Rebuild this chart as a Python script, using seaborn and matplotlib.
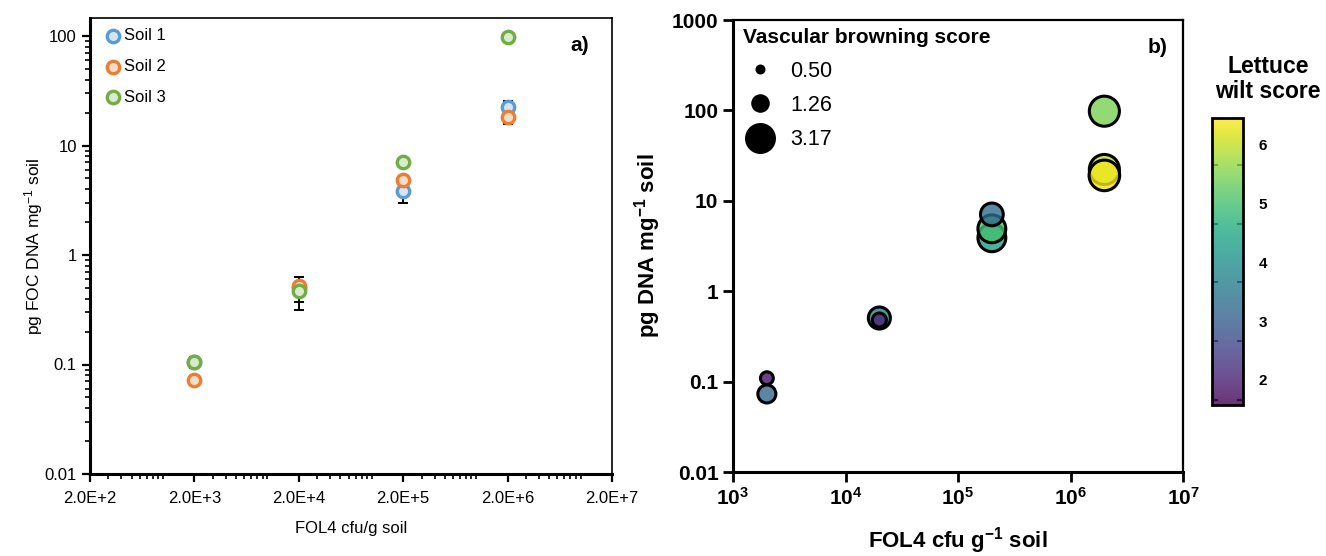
import numpy as np
import pandas as pd
import matplotlib
matplotlib.use("Agg")
import matplotlib.pyplot as plt
import seaborn as sns
from matplotlib.ticker import FixedLocator, LogLocator, NullFormatter, FuncFormatter, NullLocator
from matplotlib.lines import Line2D
import matplotlib.cm as cm
from matplotlib.colors import Normalize

# ---------------- data: panel a ----------------
inoculum = [2e3, 2e4, 2e5, 2e6]
soil_names = ["Soil 1", "Soil 2", "Soil 3"]
soil1_mean = [0.105, 0.50, 3.85, 22.5]
soil1_err = [0.013, 0.13, 0.85, 3.0]
soil2_mean = [0.072, 0.52, 4.85, 18.3]
soil2_err = [0.0, 0.03, 0.0, 2.6]
soil3_mean = [0.105, 0.47, 7.05, 98.0]
soil3_err = [0.0, 0.155, 0.0, 0.0]
x_ticks_a = [2e2, 2e3, 2e4, 2e5, 2e6, 2e7]
x_ticklabels_a = ["2.0E+2", "2.0E+3", "2.0E+4", "2.0E+5", "2.0E+6", "2.0E+7"]
y_ticks_a = [0.01, 0.1, 1, 10, 100]
y_ticklabels_a = ["0.01", "0.1", "1", "10", "100"]

# ---------------- data: panel b ----------------
cfu_b = [2e3, 2e3, 2e4, 2e4, 2e5, 2e5, 2e5, 2e6, 2e6, 2e6]
dna_b = [0.109, 0.073, 0.505, 0.48, 3.9, 4.9, 7.07, 98.0, 22.2, 19.1]
wilt_b = [1.8, 3.2, 3.6, 2.06, 4.26, 5.0, 3.3, 5.48, 5.97, 6.35]
browning_b = [0.7, 1.2, 1.7, 0.8, 2.6, 2.6, 1.8, 3.0, 3.0, 3.1]
browning_legend = [0.50, 1.26, 3.17]
wilt_range = (1.57, 6.46)
cbar_ticks = [2, 3, 4, 5, 6]
x_ticks_b = [1e3, 1e4, 1e5, 1e6, 1e7]
y_ticks_b = [0.01, 0.1, 1, 10, 100, 1000]
y_ticklabels_b = ["0.01", "0.1", "1", "10", "100", "1000"]

# ---------------- style ----------------
sns.set_style("ticks")
plt.rcParams["font.family"] = ["Liberation Sans", "DejaVu Sans"]
plt.rcParams["mathtext.fontset"] = "custom"
plt.rcParams["mathtext.rm"] = "Liberation Sans"
plt.rcParams["mathtext.bf"] = "Liberation Sans:bold"
plt.rcParams["mathtext.it"] = "Liberation Sans:italic"
plt.rcParams["mathtext.default"] = "rm"
for k in ["axes.edgecolor", "text.color", "axes.labelcolor", "xtick.color", "ytick.color"]:
    plt.rcParams[k] = "black"

edge_cols = ["#5b9bd5", "#ed7d31", "#70ad47"]
face_cols = ["#d6e5f5", "#fbdcc8", "#d9ebcc"]

fig = plt.figure(figsize=(13.26, 5.56), dpi=100)

# ================= panel a =================
axa = fig.add_axes([90/1326, 1-474/556, 522/1326, 456/556])
axa.set_xscale("log")
axa.set_yscale("log")
means = [soil1_mean, soil2_mean, soil3_mean]
errs = [soil1_err, soil2_err, soil3_err]
for i, name in enumerate(soil_names):
    axa.errorbar(inoculum, means[i], yerr=errs[i], fmt="none", ecolor="black",
                 elinewidth=1.4, capsize=3.5, capthick=1.4, zorder=2)
for i, name in enumerate(soil_names):
    d = pd.DataFrame({"cfu": inoculum, "dna": means[i]})
    sns.scatterplot(data=d, x="cfu", y="dna", ax=axa, color=face_cols[i],
                    edgecolor=edge_cols[i], linewidth=2.4, s=80, marker="o",
                    label=name, zorder=3)
axa.set_xlim(2e2, 2e7)
axa.set_ylim(0.01, 10**(2 + 18/109.5))
axa.xaxis.set_major_locator(FixedLocator(x_ticks_a))
axa.set_xticklabels(x_ticklabels_a)
axa.xaxis.set_minor_locator(LogLocator(base=10, subs=np.arange(1, 10)))
axa.xaxis.set_minor_formatter(NullFormatter())
axa.yaxis.set_major_locator(FixedLocator(y_ticks_a))
axa.set_yticklabels(y_ticklabels_a)
axa.yaxis.set_minor_locator(LogLocator(base=10, subs=np.arange(2, 10)))
axa.yaxis.set_minor_formatter(NullFormatter())
axa.tick_params(axis="both", which="major", direction="out", length=6, width=1.6,
                labelsize=12, colors="black")
axa.tick_params(axis="both", which="minor", direction="out", length=3.5, width=1.2)
axa.tick_params(axis="x", pad=6)
for s in ["left", "bottom"]:
    axa.spines[s].set_linewidth(2.2)
for s in ["top", "right"]:
    axa.spines[s].set_linewidth(1.2)
axa.set_xlabel("FOL4 cfu/g soil", fontsize=12, labelpad=11)
axa.set_ylabel("pg FOC DNA mg$^{-1}$ soil", fontsize=12.5, labelpad=0)
axa.legend(loc="upper left", bbox_to_anchor=(0.0, 1.007), frameon=False, fontsize=12,
           handletextpad=0.05, handlelength=1.2, labelspacing=0.95, borderaxespad=0.4)
axa.text(0.955, 0.94, "a)", transform=axa.transAxes, fontsize=15, fontweight="bold",
         ha="right", va="center")

# ================= panel b =================
axb = fig.add_axes([733/1326, 1-472/556, 450/1326, 452/556])
axb.set_xscale("log")
axb.set_yscale("log")
df_b = pd.DataFrame({"cfu": cfu_b, "dna": dna_b, "wilt": wilt_b, "vb": browning_b})
smin, smax = 52, 497
sns.scatterplot(data=df_b, x="cfu", y="dna", hue="wilt", size="vb", palette="viridis",
                hue_norm=wilt_range, sizes=(smin, smax), size_norm=(0.5, 3.17),
                edgecolor="black", linewidth=2.2, legend=False, ax=axb, zorder=3)
coll = axb.collections[0]
fc = np.array(coll.get_facecolors())
fc[:, 3] = 0.8
coll.set_alpha(None)
coll.set_facecolors(fc)
coll.set_edgecolor("black")

axb.set_xlim(1e3, 1e7)
axb.set_ylim(0.01, 1000)
axb.xaxis.set_major_locator(FixedLocator(x_ticks_b))
axb.xaxis.set_major_formatter(FuncFormatter(lambda v, p: r"$\mathbf{10^{%d}}$" % round(np.log10(v))))
axb.xaxis.set_minor_locator(NullLocator())
axb.yaxis.set_major_locator(FixedLocator(y_ticks_b))
axb.set_yticklabels(y_ticklabels_b)
axb.yaxis.set_minor_locator(NullLocator())
axb.tick_params(axis="both", which="major", direction="out", length=7, width=2,
                labelsize=15, colors="black")
for lab in axb.get_yticklabels():
    lab.set_fontweight("bold")
for s in ["left", "bottom"]:
    axb.spines[s].set_linewidth(2.2)
for s in ["top", "right"]:
    axb.spines[s].set_linewidth(1.6)
axb.set_xlabel("FOL4 cfu g$^{\\mathbf{-1}}$ soil", fontsize=16, fontweight="bold", labelpad=12)
axb.set_ylabel("pg DNA mg$^{\\mathbf{-1}}$ soil", fontsize=16, fontweight="bold", labelpad=6)
axb.text(0.965, 0.94, "b)", transform=axb.transAxes, fontsize=15, fontweight="bold",
         ha="right", va="center")

def s_of(v):
    return smin + (v - 0.5) / (3.17 - 0.5) * (smax - smin)

handles = [Line2D([], [], linestyle="none", marker="o", markerfacecolor="black",
                  markeredgecolor="none", markersize=np.sqrt(s_of(v))) for v in browning_legend]
leg = axb.legend(handles, ["%.2f" % v for v in browning_legend], title="Vascular browning score",
                 loc="upper left", bbox_to_anchor=(-0.012, 1.015), frameon=False, fontsize=15.5,
                 title_fontproperties={"weight": "bold", "size": 15},
                 handletextpad=0.6, labelspacing=0.62, borderaxespad=0.3, handlelength=1.6,
                 alignment="left")

# colorbar
cax = fig.add_axes([1212/1326, 1-405/556, 31/1326, 287/556])
sm = cm.ScalarMappable(norm=Normalize(*wilt_range), cmap="viridis")
cb = fig.colorbar(sm, cax=cax, alpha=0.8)
cb.outline.set_linewidth(2)
cb.set_ticks(cbar_ticks)
cb.ax.yaxis.set_minor_locator(FixedLocator([t - 0.34 for t in cbar_ticks]))
cb.ax.tick_params(which="major", length=0, labelsize=11, pad=11)
cb.ax.tick_params(which="minor", direction="in", length=4, width=1.5, left=True, right=True)
for lab in cb.ax.get_yticklabels():
    lab.set_fontweight("bold")
fig.text(1268/1326, 1-79/556, "Lettuce\nwilt score", ha="center", va="center",
         fontsize=16.5, fontweight="bold", linespacing=1.15)

fig.savefig("out.png", dpi=100)
